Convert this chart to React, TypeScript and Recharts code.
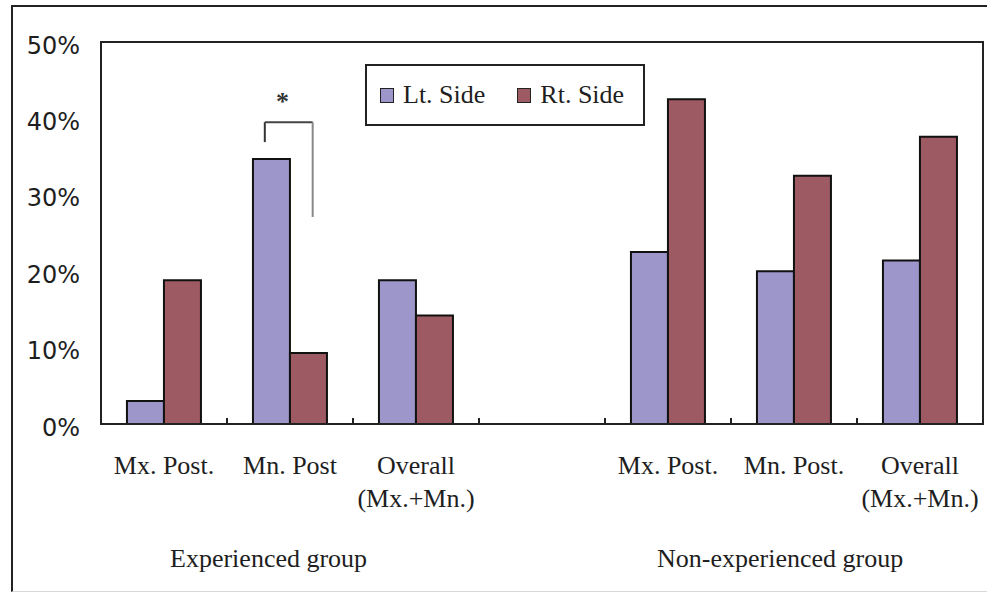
import React from 'react';
import {
  BarChart,
  Bar,
  XAxis,
  YAxis,
  Legend,
  ReferenceLine,
  ReferenceDot,
  ReferenceArea,
} from 'recharts';

const categories = [
  'Mx. Post.',
  'Mn. Post',
  'Overall\n(Mx.+Mn.)',
  '',
  'Mx. Post.',
  'Mn. Post.',
  'Overall\n(Mx.+Mn.)',
];
const ltSide: (number | null)[] = [3.0, 34.7, 18.8, null, 22.5, 20.0, 21.4];
const rtSide: (number | null)[] = [18.8, 9.3, 14.2, null, 42.5, 32.5, 37.6];
const yTicks = [0, 10, 20, 30, 40, 50];
const boundaryTicks = [1, 2, 3, 4, 5, 6];
const groupLabels = ['Experienced group', 'Non-experienced group'];
const groupPositions = [1.33, 5.39];

// significance bracket (x in category-index units, y in %)
const bracketLeftX = 1.3;
const bracketRightX = 1.68;
const bracketTopY = 39.5;
const bracketLeftBottomY = 36.9;
const bracketRightBottomY = 27.1;
const starX = 1.44;
const starY = 42.3;

const LT_COLOR = '#9C96CA';
const RT_COLOR = '#9E5A62';
const SERIF = "'Liberation Serif', 'Times New Roman', serif";
const SANS = "'DejaVu Sans', sans-serif";
const TEXT = '#1e1e1e';

const data = categories.map((c, i) => ({ id: i, label: c, lt: ltSide[i], rt: rtSide[i] }));

const CatTick = (props: any) => {
  const { x, y, payload } = props;
  const lines = String(categories[payload.value] ?? '').split('\n');
  return (
    <text x={x} y={y} textAnchor="middle" fontFamily={SERIF} fontSize={26} fill={TEXT}>
      {lines.map((l, i) => (
        <tspan key={i} x={x} dy={i === 0 ? 48 : 33}>
          {l}
        </tspan>
      ))}
    </text>
  );
};

const GroupTick = (props: any) => {
  const { x, y, payload } = props;
  const idx = groupPositions.indexOf(payload.value);
  return (
    <text x={x} y={y + 43} textAnchor="middle" fontFamily={SERIF} fontSize={26} fill={TEXT}>
      {groupLabels[idx] ?? ''}
    </text>
  );
};

const EmptyTick = () => <g />;

const renderLegend = (props: any) => {
  const payload = props.payload || [];
  return (
    <div
      style={{
        boxSizing: 'border-box',
        width: 280,
        height: 62,
        border: '2px solid #222',
        background: '#fff',
        display: 'flex',
        alignItems: 'center',
        fontFamily: SERIF,
        fontSize: 26,
        color: TEXT,
        paddingLeft: 13,
      }}
    >
      {payload.map((p: any, i: number) => (
        <span
          key={i}
          style={{ display: 'flex', alignItems: 'center', marginRight: i === 0 ? 32 : 0 }}
        >
          <span
            style={{
              display: 'inline-block',
              boxSizing: 'border-box',
              width: 14,
              height: 15,
              background: p.color,
              border: '1.5px solid #222',
              marginRight: 9,
            }}
          />
          {p.value}
        </span>
      ))}
    </div>
  );
};

export default function App() {
  return (
    <div>
      <div
        style={{
          position: 'absolute',
          left: 11,
          top: 5,
          width: 990,
          height: 584,
          borderTop: '2px solid #222',
          borderLeft: '2px solid #222',
          borderBottom: '1px solid #d8d8d8',
          background: '#fff',
        }}
      />
      <div style={{ position: 'absolute', left: 0, top: 0 }}>
        <BarChart
          width={987}
          height={596}
          data={data}
          margin={{ top: 42, right: 4, left: 11, bottom: 12 }}
          barCategoryGap="20.6%"
          barGap={0}
        >
          <XAxis
            dataKey="id"
            type="category"
            interval={0}
            height={100}
            tickSize={0}
            tickMargin={2}
            tickLine={false}
            axisLine={{ stroke: '#222', strokeWidth: 2 }}
            tick={<CatTick />}
          />
          <XAxis
            xAxisId="g"
            dataKey="id"
            type="number"
            domain={[0, 7]}
            allowDataOverflow
            ticks={groupPositions}
            interval={0}
            height={60}
            tickSize={0}
            tickMargin={0}
            tickLine={false}
            axisLine={false}
            tick={<GroupTick />}
          />
          <XAxis
            xAxisId="n"
            dataKey="id"
            type="number"
            domain={[0, 7]}
            allowDataOverflow
            ticks={boundaryTicks}
            interval={0}
            mirror
            height={12}
            tick={<EmptyTick />}
            axisLine={false}
            tickSize={6}
            tickLine={{ stroke: '#222', strokeWidth: 2 }}
          />
          <YAxis
            domain={[0, 50]}
            ticks={yTicks}
            interval={0}
            width={90}
            tickSize={0}
            tickMargin={21}
            tickLine={false}
            axisLine={{ stroke: '#222', strokeWidth: 2 }}
            tickFormatter={(v: number) => `${v}%`}
            tick={{ fontFamily: SANS, fontSize: 24, fill: TEXT, dy: 3 }}
          />
          <YAxis
            yAxisId="m"
            domain={[0, 50]}
            ticks={yTicks}
            interval={0}
            mirror
            width={20}
            tick={<EmptyTick />}
            axisLine={false}
            tickSize={9}
            tickLine={{ stroke: '#222', strokeWidth: 2 }}
          />
          <ReferenceArea
            xAxisId="n"
            x1={0}
            x2={7}
            y1={0}
            y2={50}
            fill="none"
            fillOpacity={0}
            stroke="#222"
            strokeWidth={2}
            ifOverflow="visible"
          />
          <Legend
            layout="horizontal"
            verticalAlign="middle"
            align="center"
            content={renderLegend}
            wrapperStyle={{ position: 'absolute', left: 365, top: 64, width: 280, height: 62 }}
          />
          <Bar
            dataKey="lt"
            name="Lt. Side"
            fill={LT_COLOR}
            stroke="#111"
            strokeWidth={2}
            isAnimationActive={false}
          />
          <Bar
            dataKey="rt"
            name="Rt. Side"
            fill={RT_COLOR}
            stroke="#111"
            strokeWidth={2}
            isAnimationActive={false}
          />
          <ReferenceLine
            xAxisId="n"
            segment={[
              { x: bracketLeftX, y: bracketLeftBottomY },
              { x: bracketLeftX, y: bracketTopY },
            ]}
            stroke="#333"
            strokeWidth={2}
          />
          <ReferenceLine
            xAxisId="n"
            segment={[
              { x: bracketLeftX, y: bracketTopY },
              { x: bracketRightX, y: bracketTopY },
            ]}
            stroke="#444"
            strokeWidth={2}
          />
          <ReferenceLine
            xAxisId="n"
            segment={[
              { x: bracketRightX, y: bracketTopY },
              { x: bracketRightX, y: bracketRightBottomY },
            ]}
            stroke="#888"
            strokeWidth={2}
          />
          <ReferenceDot
            xAxisId="n"
            x={starX}
            y={starY}
            r={0}
            fill="none"
            stroke="none"
            label={{ value: '*', position: 'center', fontFamily: SERIF, fontSize: 26, fontWeight: 'bold', fill: '#333' }}
          />
        </BarChart>
      </div>
    </div>
  );
}
